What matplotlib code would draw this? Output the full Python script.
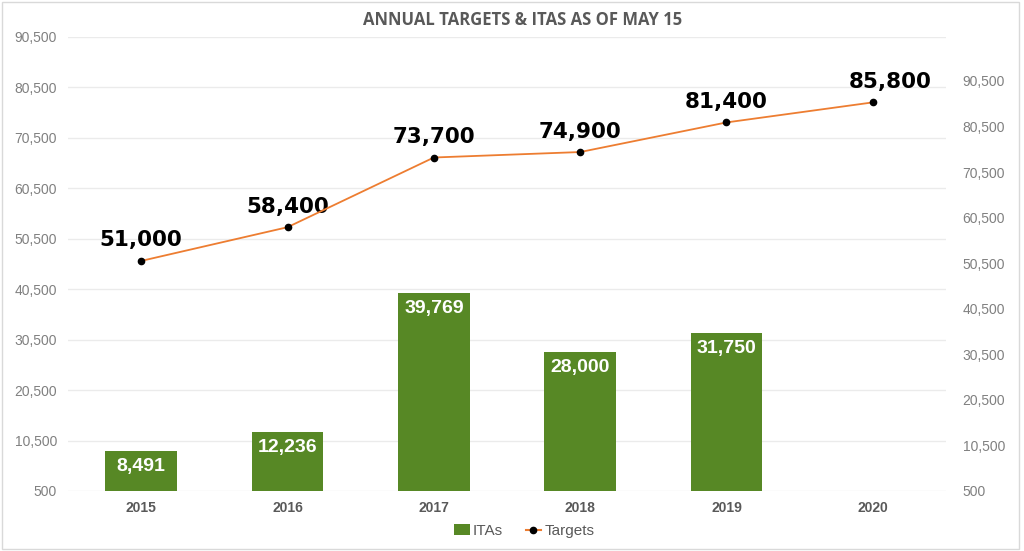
import matplotlib
matplotlib.use("Agg")
import matplotlib.pyplot as plt
from matplotlib.lines import Line2D
from matplotlib.patches import Patch

years = ["2015", "2016", "2017", "2018", "2019", "2020"]
itas = [8491, 12236, 39769, 28000, 31750]
targets = [51000, 58400, 73700, 74900, 81400, 85800]
left_ticks = list(range(500, 90501, 10000))
right_ticks = list(range(500, 90501, 10000))

GREEN = "#578825"
ORANGE = "#ED7D31"
GRAY = "#808080"

fig = plt.figure(figsize=(10.24, 5.51), dpi=100)
ax = fig.add_axes([68 / 1024, 1 - 491 / 551, 878 / 1024, 454 / 551])
ax2 = ax.twinx()

x = list(range(len(years)))

# bars (left axis)
ax.bar(x[:len(itas)], itas, width=0.49, color=GREEN, zorder=2)
for xi, v in zip(x, itas):
    ax.text(xi, v - 1400, f"{v:,}", ha="center", va="top", color="white",
            fontsize=14, fontweight="bold", family="Liberation Sans", zorder=3)

ax.set_xlim(-0.5, len(years) - 0.5)
ax.set_ylim(500, 90500)
ax.set_yticks(left_ticks)
ax.set_yticklabels([f"{t:,}" for t in left_ticks])
ax.grid(axis="y", color="#EBEBEB", linewidth=1, zorder=0)
ax.set_axisbelow(True)
ax.set_xticks(x)
ax.set_xticklabels(years, fontweight="bold", color="#595959", fontsize=10,
                   family="Liberation Sans")

# line (right axis)
ax2.plot(x, targets, color=ORANGE, linewidth=1.3, marker="o", markersize=4.5,
         markerfacecolor="black", markeredgecolor="black", zorder=4)
for i, (xi, v) in enumerate(zip(x, targets)):
    dx = 0.12 if i == len(targets) - 1 else 0.0
    ax2.text(xi + dx, v + 2300, f"{v:,}", ha="center", va="bottom", color="black",
             fontsize=15.5, fontweight="bold", family="DejaVu Sans")
ax2.set_ylim(500, 100150)
ax2.set_yticks(right_ticks)
ax2.set_yticklabels([f"{t:,}" for t in right_ticks])

for a in (ax, ax2):
    for s in a.spines.values():
        s.set_visible(False)
    a.tick_params(length=0, labelsize=10, labelcolor=GRAY)
    for lbl in a.get_yticklabels():
        lbl.set_family("Liberation Sans")
ax.tick_params(axis="y", pad=8)
ax2.tick_params(axis="y", pad=12)
ax.tick_params(axis="x", pad=7, labelcolor="#595959")

fig.text(0.51, 1 - 20 / 551, "ANNUAL TARGETS & ITAS AS OF MAY 15", ha="center",
         va="center", fontsize=12, fontweight="bold", color="#595959",
         family="Open Sans")

handles = [Patch(facecolor=GREEN, label="ITAs"),
           Line2D([0], [0], color=ORANGE, marker="o", markersize=4.5,
                  markerfacecolor="black", markeredgecolor="black",
                  label="Targets")]
leg = fig.legend(handles=handles, loc="center", bbox_to_anchor=(0.512, 1 - 531 / 551),
                 ncol=2, frameon=False, handlelength=1.0, handletextpad=0.2,
                 columnspacing=1.5, prop={"family": "Liberation Sans", "size": 11})
for t in leg.get_texts():
    t.set_color("#595959")

fig.patches.append(plt.Rectangle((0.002, 0.003), 0.993, 0.994, transform=fig.transFigure,
                                 fill=False, edgecolor="#D9D9D9", linewidth=1))

fig.savefig("out.png", dpi=100)
